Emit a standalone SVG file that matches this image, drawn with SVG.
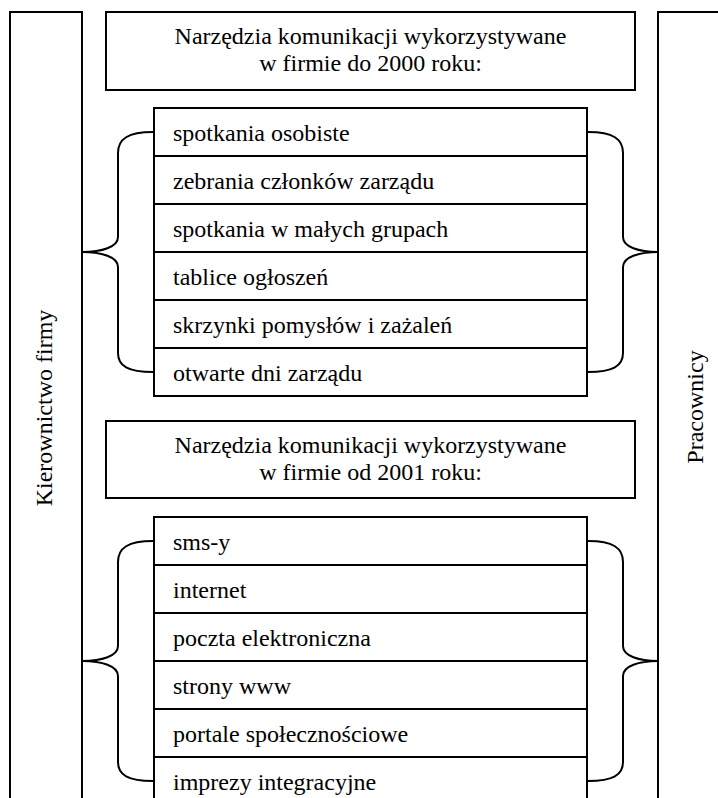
<svg xmlns="http://www.w3.org/2000/svg" width="718" height="798" viewBox="0 0 718 798">
<style>
.box{fill:#fff;stroke:#000;stroke-width:2}
.brace{fill:none;stroke:#000;stroke-width:2}
text{font-family:"Liberation Serif","Times New Roman",serif;font-size:24px;fill:#000}
.c{text-anchor:middle}
</style>
<rect width="718" height="798" fill="#fff"/>
<g id="kierownictwo">
<rect class="box" x="10" y="12" width="72" height="800"/>
<text class="c" transform="translate(52,408) rotate(-90)">Kierownictwo firmy</text>
</g>
<g id="pracownicy">
<rect class="box" x="658" y="12" width="72" height="800"/>
<text class="c" transform="translate(703,407) rotate(-90)">Pracownicy</text>
</g>
<g id="header1">
<rect class="box" x="106" y="12" width="529" height="78"/>
<text class="c" x="370.5" y="44">Narzędzia komunikacji wykorzystywane</text>
<text class="c" x="370.5" y="71">w firmie do 2000 roku:</text>
</g>
<g id="list1">
<rect class="box" x="154" y="108" width="433" height="48"/>
<text x="173" y="141">spotkania osobiste</text>
<rect class="box" x="154" y="156" width="433" height="48"/>
<text x="173" y="189">zebrania członków zarządu</text>
<rect class="box" x="154" y="204" width="433" height="48"/>
<text x="173" y="237">spotkania w małych grupach</text>
<rect class="box" x="154" y="252" width="433" height="48"/>
<text x="173" y="285">tablice ogłoszeń</text>
<rect class="box" x="154" y="300" width="433" height="48"/>
<text x="173" y="333">skrzynki pomysłów i zażaleń</text>
<rect class="box" x="154" y="348" width="433" height="48"/>
<text x="173" y="381">otwarte dni zarządu</text>
</g>
<g id="header2">
<rect class="box" x="106" y="421" width="529" height="77"/>
<text class="c" x="370.5" y="453">Narzędzia komunikacji wykorzystywane</text>
<text class="c" x="370.5" y="480">w firmie od 2001 roku:</text>
</g>
<g id="list2">
<rect class="box" x="154" y="517" width="433" height="48"/>
<text x="173" y="550">sms-y</text>
<rect class="box" x="154" y="565" width="433" height="48"/>
<text x="173" y="598">internet</text>
<rect class="box" x="154" y="613" width="433" height="48"/>
<text x="173" y="646">poczta elektroniczna</text>
<rect class="box" x="154" y="661" width="433" height="48"/>
<text x="173" y="694">strony www</text>
<rect class="box" x="154" y="709" width="433" height="48"/>
<text x="173" y="742">portale społecznościowe</text>
<rect class="box" x="154" y="757" width="433" height="48"/>
<text x="173" y="790">imprezy integracyjne</text>
</g>
<g id="connectors">
<path class="brace" d="M153,132 C128,132 118,139 118,153 L118,237 C118,247 102,252 82,252 C102,252 118,257 118,267 L118,353 C118,366 128,372 153,372"/>
<path class="brace" d="M588,132 C613,132 623,139 623,153 L623,237 C623,247 639,252 658,252 C639,252 623,257 623,267 L623,353 C623,366 613,372 588,372"/>
<path class="brace" d="M153,541 C128,541 118,548 118,562 L118,646 C118,656 102,661 82,661 C102,661 118,666 118,676 L118,762 C118,775 128,781 153,781"/>
<path class="brace" d="M588,541 C613,541 623,548 623,562 L623,646 C623,656 639,661 658,661 C639,661 623,666 623,676 L623,762 C623,775 613,781 588,781"/>
</g>
</svg>
